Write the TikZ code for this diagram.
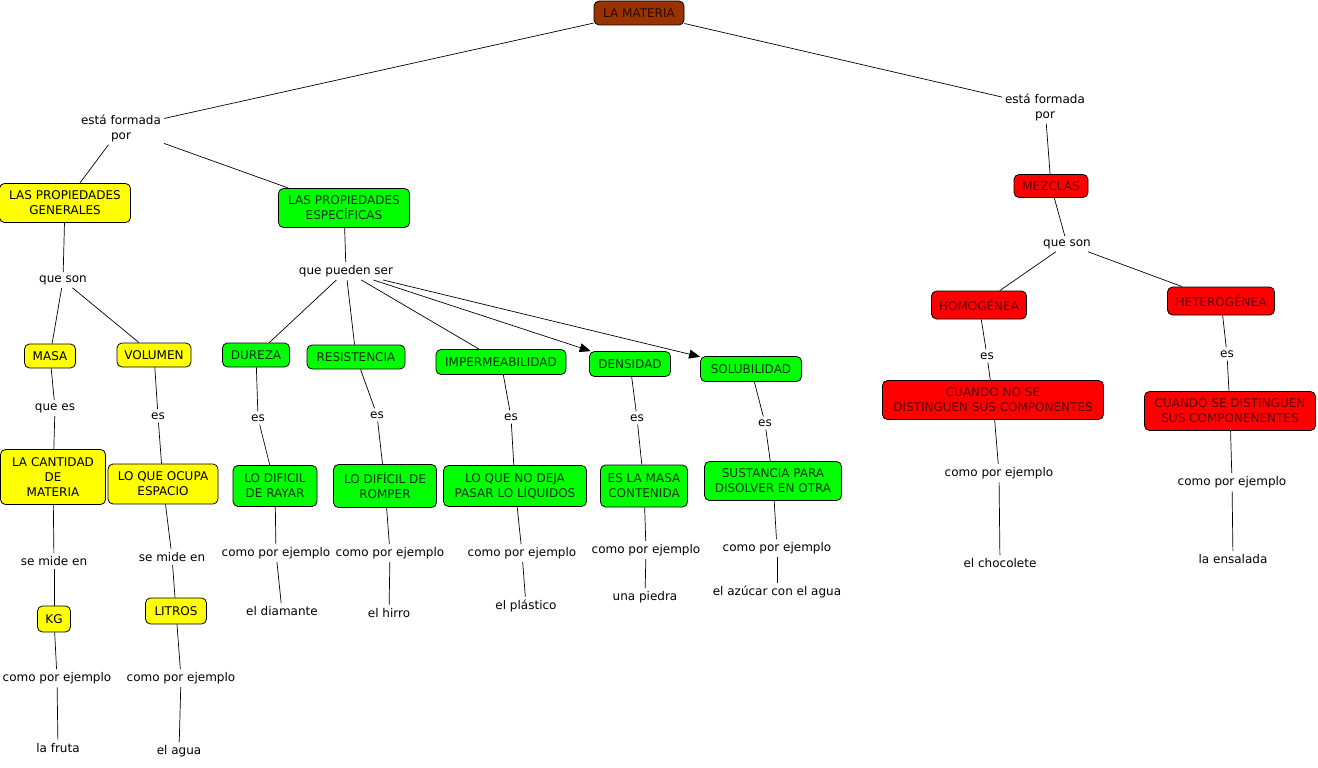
\documentclass[tikz,border=0pt]{standalone}
\usepackage{fontspec}
\setmainfont{DejaVu Sans}
\usetikzlibrary{arrows.meta}
\definecolor{cbrown}{RGB}{153,51,0}
\definecolor{cyel}{RGB}{255,255,0}
\definecolor{cgreen}{RGB}{0,255,0}
\definecolor{cred}{RGB}{255,0,0}
\definecolor{tgreen}{RGB}{0,50,0}
\definecolor{tred}{RGB}{90,0,0}
\definecolor{tbrown}{RGB}{40,10,0}
\tikzset{
  base/.style={draw=black, line width=0.8pt, rounded corners=5pt, align=center, inner sep=1pt, font=\fontsize{12}{15}\selectfont},
  ybox/.style={base, fill=cyel, text=black},
  gbox/.style={base, fill=cgreen, text=tgreen},
  rbox/.style={base, fill=cred, text=tred},
  bbox/.style={base, fill=cbrown, text=tbrown},
  lnk/.style={align=center, inner sep=3pt, font=\fontsize{12}{15}\selectfont},
  con/.style={draw=black, line width=0.7pt},
  arr/.style={con, -{Triangle[length=11pt,width=9pt]}},
}
\begin{document}
\begin{tikzpicture}[x=1pt,y=-1pt]
\useasboundingbox[fill=white] (0,0) rectangle (1318,768);
% concepts
\node[bbox, minimum width=90, minimum height=24] (mat) at (639,13) {LA MATERIA};
\node[ybox, minimum width=131, minimum height=39] (pg) at (65,203) {LAS PROPIEDADES\\GENERALES};
\node[gbox, minimum width=131, minimum height=39] (pe) at (344,208) {LAS PROPIEDADES\\ESPECÍFICAS};
\node[rbox, minimum width=74, minimum height=23] (mez) at (1051,186) {MEZCLAS};
\node[ybox, minimum width=51, minimum height=24] (masa) at (50,356) {MASA};
\node[ybox, minimum width=74, minimum height=24] (vol) at (154,355) {VOLUMEN};
\node[gbox, minimum width=67, minimum height=24] (dur) at (256,355) {DUREZA};
\node[gbox, minimum width=98, minimum height=24] (res) at (356,357) {RESISTENCIA};
\node[gbox, minimum width=130, minimum height=25] (imp) at (501,362) {IMPERMEABILIDAD};
\node[gbox, minimum width=81, minimum height=25] (den) at (630,364) {DENSIDAD};
\node[gbox, minimum width=101, minimum height=25] (sol) at (751,369) {SOLUBILIDAD};
\node[rbox, minimum width=95, minimum height=28] (hom) at (979,305) {HOMOGÉNEA};
\node[rbox, minimum width=107, minimum height=28] (het) at (1221,301) {HETEROGÉNEA};
\node[ybox, minimum width=105, minimum height=55] (cant) at (53,477) {LA CANTIDAD\\DE\\MATERIA};
\node[ybox, minimum width=110, minimum height=40] (ocu) at (163,484) {LO QUE OCUPA\\ESPACIO};
\node[gbox, minimum width=84, minimum height=41] (ray) at (275,486) {LO DIFICIL\\DE RAYAR};
\node[gbox, minimum width=103, minimum height=43] (rom) at (385,486) {LO DIFÍCIL DE\\ROMPER};
\node[gbox, minimum width=143, minimum height=41] (liq) at (515,486) {LO QUE NO DEJA\\PASAR LO LÍQUIDOS};
\node[gbox, minimum width=87, minimum height=42] (mcon) at (644,486) {ES LA MASA\\CONTENIDA};
\node[gbox, minimum width=137, minimum height=39] (sus) at (773,481) {SUSTANCIA PARA\\DISOLVER EN OTRA};
\node[rbox, minimum width=221, minimum height=39] (cno) at (993,400) {CUANDO NO SE\\DISTINGUEN SUS COMPONENTES};
\node[rbox, minimum width=171, minimum height=39] (csi) at (1230,411) {CUANDO SE DISTINGUEN\\SUS COMPONENENTES};
\node[ybox, minimum width=33, minimum height=26] (kg) at (54,619) {KG};
\node[ybox, minimum width=61, minimum height=26] (lit) at (176,611) {LITROS};
% linking phrases
\node[lnk] (efL) at (121,128) {está formada\\por};
\node[lnk] (efR) at (1045,107) {está formada\\por};
\node[lnk] (qsL) at (63,280) {que son};
\node[lnk] (qps) at (346,271) {que pueden ser};
\node[lnk] (qsR) at (1067,244) {que son};
\node[lnk] (qe) at (55,408) {que es};
\node[lnk] (es1) at (158,416) {es};
\node[lnk] (es2) at (258,418) {es};
\node[lnk] (es3) at (377,415) {es};
\node[lnk] (es4) at (511,417) {es};
\node[lnk] (es5) at (637,418) {es};
\node[lnk] (es6) at (765,423) {es};
\node[lnk] (es7) at (987,356) {es};
\node[lnk] (es8) at (1227,354) {es};
\node[lnk] (sm1) at (54,561) {se mide en};
\node[lnk] (sm2) at (172,557) {se mide en};
\node[lnk] (cp1) at (57,678) {como por ejemplo};
\node[lnk] (cp2) at (181,678) {como por ejemplo};
\node[lnk] (cp3) at (276,553) {como por ejemplo};
\node[lnk] (cp4) at (390,553) {como por ejemplo};
\node[lnk] (cp5) at (522,553) {como por ejemplo};
\node[lnk] (cp6) at (646,550) {como por ejemplo};
\node[lnk] (cp7) at (777,548) {como por ejemplo};
\node[lnk] (cp8) at (999,473) {como por ejemplo};
\node[lnk] (cp9) at (1232,482) {como por ejemplo};
% examples
\node[lnk] (ex1) at (58,748) {la fruta};
\node[lnk] (ex2) at (179,751) {el agua};
\node[lnk] (ex3) at (282,611) {el diamante};
\node[lnk] (ex4) at (389,613) {el hirro};
\node[lnk] (ex5) at (526,606) {el plástico};
\node[lnk] (ex6) at (645,597) {una piedra};
\node[lnk] (ex7) at (777,592) {el azúcar con el agua};
\node[lnk] (ex8) at (1000,563) {el chocolete};
\node[lnk] (ex9) at (1233,559) {la ensalada};
% connectors
\draw[con] (mat) -- (efL);
\draw[con] (mat) -- (efR);
\draw[con] (efL) -- (pg);
\draw[con] (efL) -- (pe);
\draw[con] (efR) -- (mez);
\draw[con] (pg) -- (qsL);
\draw[con] (qsL) -- (masa);
\draw[con] (qsL) -- (vol);
\draw[con] (pe) -- (qps);
\draw[con] (qps) -- (dur);
\draw[con] (qps) -- (res);
\draw[con] (qps) -- (imp);
\draw[arr] (qps) -- (den);
\draw[arr] (qps) -- (sol);
\draw[con] (mez) -- (qsR);
\draw[con] (qsR) -- (hom);
\draw[con] (qsR) -- (het);
\draw[con] (masa) -- (qe);
\draw[con] (qe) -- (cant);
\draw[con] (vol) -- (es1);
\draw[con] (es1) -- (ocu);
\draw[con] (dur) -- (es2);
\draw[con] (es2) -- (ray);
\draw[con] (res) -- (es3);
\draw[con] (es3) -- (rom);
\draw[con] (imp) -- (es4);
\draw[con] (es4) -- (liq);
\draw[con] (den) -- (es5);
\draw[con] (es5) -- (mcon);
\draw[con] (sol) -- (es6);
\draw[con] (es6) -- (sus);
\draw[con] (hom) -- (es7);
\draw[con] (es7) -- (cno);
\draw[con] (het) -- (es8);
\draw[con] (es8) -- (csi);
\draw[con] (cant) -- (sm1);
\draw[con] (sm1) -- (kg);
\draw[con] (ocu) -- (sm2);
\draw[con] (sm2) -- (lit);
\draw[con] (kg) -- (cp1);
\draw[con] (cp1) -- (ex1);
\draw[con] (lit) -- (cp2);
\draw[con] (cp2) -- (ex2);
\draw[con] (ray) -- (cp3);
\draw[con] (cp3) -- (ex3);
\draw[con] (rom) -- (cp4);
\draw[con] (cp4) -- (ex4);
\draw[con] (liq) -- (cp5);
\draw[con] (cp5) -- (ex5);
\draw[con] (mcon) -- (cp6);
\draw[con] (cp6) -- (ex6);
\draw[con] (sus) -- (cp7);
\draw[con] (cp7) -- (ex7);
\draw[con] (cno) -- (cp8);
\draw[con] (cp8) -- (ex8);
\draw[con] (csi) -- (cp9);
\draw[con] (cp9) -- (ex9);
\end{tikzpicture}
\end{document}
